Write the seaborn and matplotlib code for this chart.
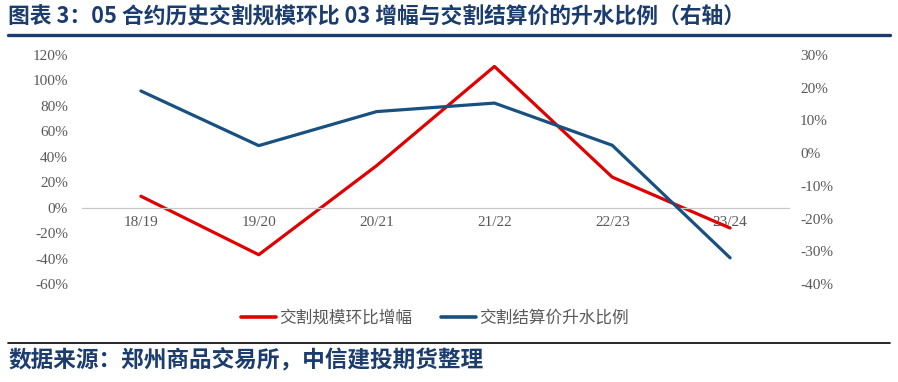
import matplotlib
matplotlib.use("Agg")
import matplotlib.pyplot as plt
from matplotlib.lines import Line2D
from matplotlib.ticker import FuncFormatter
import seaborn as sns
import pandas as pd

# ---- data ----
categories = ["18/19", "19/20", "20/21", "21/22", "22/23", "23/24"]
scale_growth = [9, -37, 33, 111, 24, -16]        # 交割规模环比增幅 (left axis, %)
premium_ratio = [19, 2.3, 12.7, 15.3, 2.4, -32]  # 交割结算价升水比例 (right axis, %)
left_ticks = [-60, -40, -20, 0, 20, 40, 60, 80, 100, 120]
right_ticks = [-40, -30, -20, -10, 0, 10, 20, 30]

title = "图表 3：05 合约历史交割规模环比 03 增幅与交割结算价的升水比例（右轴）"
source = "数据来源：郑州商品交易所，中信建投期货整理"
name_red = "交割规模环比增幅"
name_blue = "交割结算价升水比例"

sns.set_style("white")
plt.rcParams["font.family"] = ["Noto Sans CJK SC", "DejaVu Sans"]

RED = "#E00000"
BLUE = "#185080"
NAVY = "#1B3C6E"
GRAY = "#595959"

df = pd.DataFrame({"cat": categories, "red": scale_growth, "blue": premium_ratio})

fig = plt.figure(figsize=(8.98, 3.82), dpi=100)
ax = fig.add_axes([82 / 898, 1 - 284 / 382, (789 - 82) / 898, (284 - 55) / 382])
ax2 = ax.twinx()

sns.lineplot(data=df, x="cat", y="red", ax=ax, color=RED, linewidth=2.3, sort=False, label=name_red, legend=False)
sns.lineplot(data=df, x="cat", y="blue", ax=ax2, color=BLUE, linewidth=2.3, sort=False, label=name_blue, legend=False)

ax.set_xlim(-0.5, len(categories) - 0.5)
ax.set_ylim(-60, 120)
ax2.set_ylim(-40, 30)
ax.set_yticks(left_ticks)
ax2.set_yticks(right_ticks)
pct = FuncFormatter(lambda v, p: f"{v:.0f}%")
ax.yaxis.set_major_formatter(pct)
ax2.yaxis.set_major_formatter(pct)

for a in (ax, ax2):
    a.set_xlabel("")
    a.set_ylabel("")
    for s in ("top", "left", "right", "bottom"):
        a.spines[s].set_visible(False)
    a.grid(False)
    a.patch.set_alpha(0)

ax.spines["bottom"].set_visible(True)
ax.spines["bottom"].set_position(("data", 0))
ax.spines["bottom"].set_color("#C8C8C8")
ax.spines["bottom"].set_linewidth(0.9)

ax.tick_params(axis="x", length=0, pad=6, labelsize=11, labelcolor=GRAY)
ax.tick_params(axis="y", length=0, pad=10, labelsize=11, labelcolor=GRAY)
ax2.tick_params(axis="y", length=0, pad=8, labelsize=11, labelcolor=GRAY)
for lab in ax.get_xticklabels() + ax.get_yticklabels() + ax2.get_yticklabels():
    lab.set_fontfamily("Liberation Serif")

handles = [Line2D([0], [0], color=RED, lw=2.6), Line2D([0], [0], color=BLUE, lw=2.6)]
fig.legend(handles, [name_red, name_blue], loc="center", bbox_to_anchor=(435 / 898, 1 - 318 / 382),
           ncol=2, frameon=False, fontsize=12, handlelength=2.1, handletextpad=0.2,
           columnspacing=1.7, labelcolor=GRAY)

fig.text(8 / 898, 1 - 17 / 382, title, fontsize=15.7, fontweight="bold", color=NAVY, va="center", ha="left")
fig.add_artist(Line2D([8 / 898, 890 / 898], [1 - 35 / 382, 1 - 35 / 382], color=NAVY, lw=2.4))
fig.add_artist(Line2D([8 / 898, 890 / 898], [1 - 343 / 382, 1 - 343 / 382], color="black", lw=1.2))
fig.text(8 / 898, 1 - 361 / 382, source, fontsize=16.3, fontweight="bold", color=NAVY, va="center", ha="left")

fig.savefig("out.png", dpi=100)
